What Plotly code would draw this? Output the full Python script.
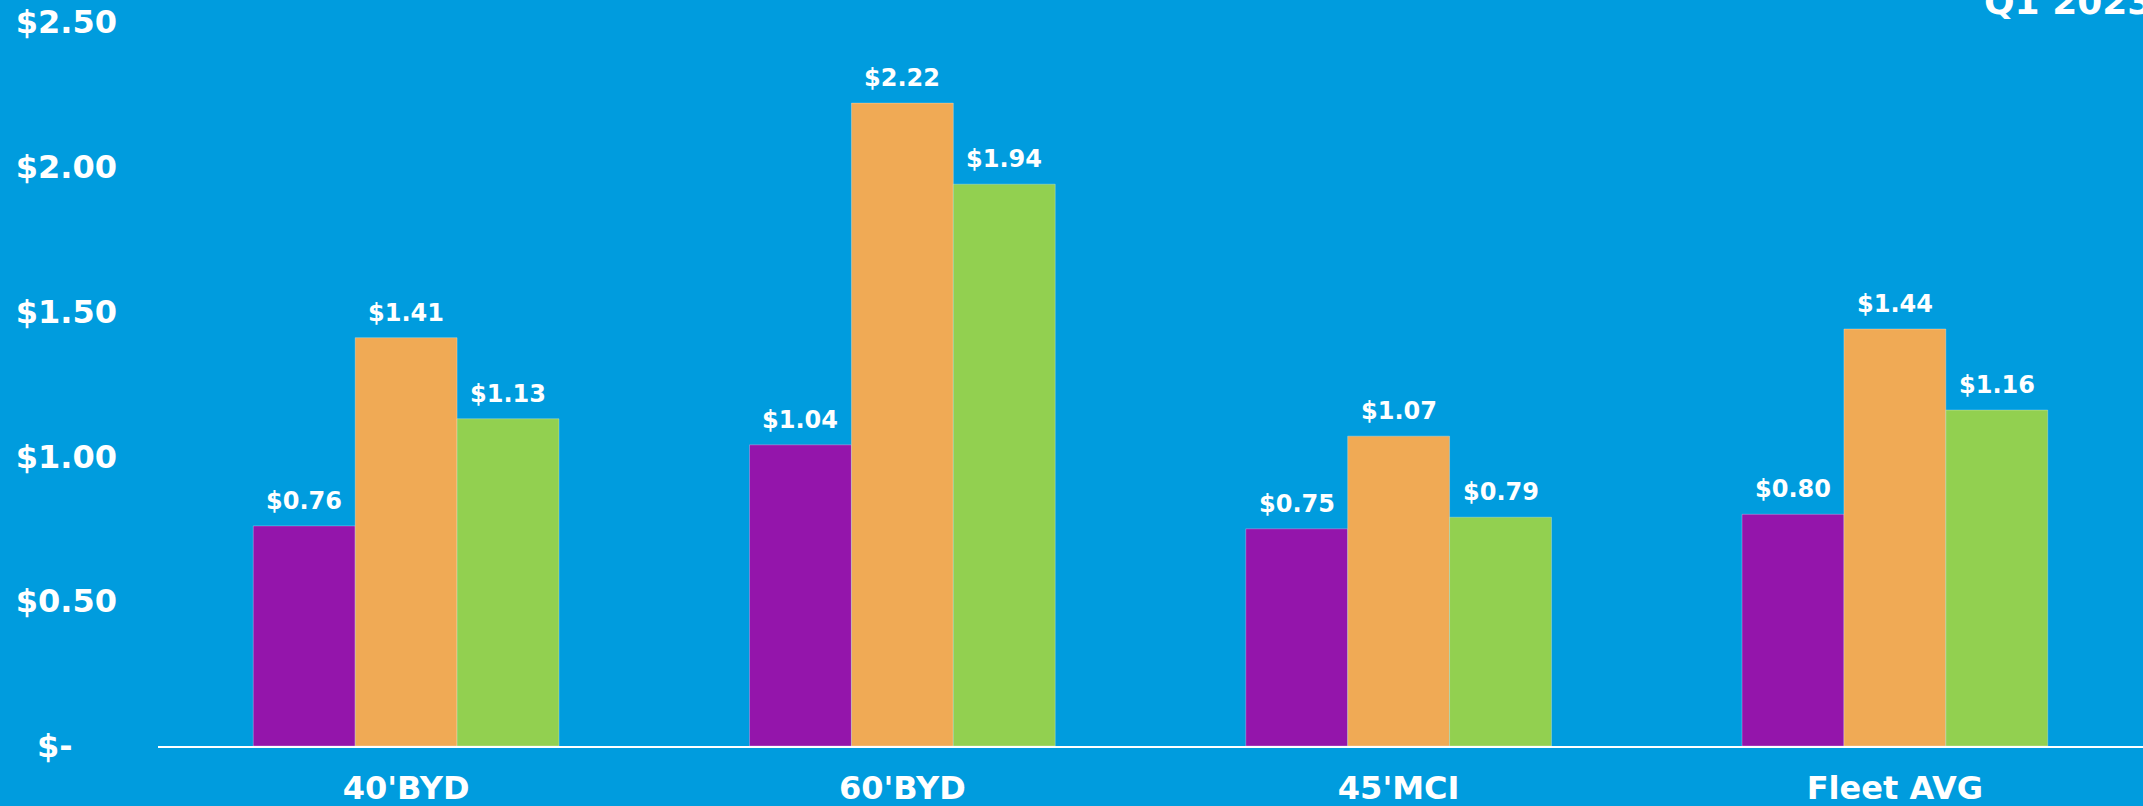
import plotly.graph_objects as go

categories = ["40'BYD", "60'BYD", "45'MCI", "Fleet AVG"]
series_purple = [0.76, 1.04, 0.75, 0.80]
series_orange = [1.41, 2.22, 1.07, 1.44]
series_green = [1.13, 1.94, 0.79, 1.16]
tick_vals = [0, 0.5, 1.0, 1.5, 2.0, 2.5]
tick_text = ["$-\u2007\u2007", "$0.50", "$1.00", "$1.50", "$2.00", "$2.50"]
corner_label = "Q1 2023"

BG = "rgb(0,156,222)"
colors = ["#9415AB", "#F0AA55", "#92D050"]
FONT = "DejaVu Sans"

fig = go.Figure()
all_series = [series_purple, series_orange, series_green]
for vals, col in zip(all_series, colors):
    fig.add_trace(go.Bar(
        x=categories, y=vals,
        marker=dict(color=col, line=dict(color="rgba(255,255,255,0.35)", width=0.8)),
        hoverinfo="skip",
    ))

# data labels
bar_px = 102
annotations = []
for i, vals in enumerate(all_series):
    for c, v in zip(categories, vals):
        annotations.append(dict(
            x=c, y=v, xref="x", yref="y", text=f"${v:.2f}",
            showarrow=False, xshift=(i - 1) * bar_px, yshift=25,
            yanchor="middle", xanchor="center",
            font=dict(family=FONT, size=24, color="white", weight="bold"),
        ))

annotations.append(dict(
    x=0.919, y=0.9972, xref="paper", yref="paper", text=corner_label,
    showarrow=False, xanchor="left", yanchor="bottom",
    font=dict(family=FONT, size=36, color="white", weight="bold"),
))

fig.update_layout(
    width=2143, height=806,
    margin=dict(l=158, r=0, t=22, b=60, autoexpand=False),
    paper_bgcolor=BG, plot_bgcolor=BG,
    barmode="group", bargap=0.384, bargroupgap=0,
    showlegend=False,
    hovermode=False,
    annotations=annotations,
    xaxis=dict(
        automargin=False,
        showgrid=False, zeroline=False, showline=True, linecolor="white", linewidth=2,
        ticks="", ticklabelstandoff=13,
        tickfont=dict(family=FONT, size=32, color="white", weight="bold"),
    ),
    yaxis=dict(
        automargin=False,
        range=[0, 2.5], autorange=False, showgrid=False, zeroline=False, showline=False,
        tickvals=tick_vals, ticktext=tick_text, ticks="", ticklabelstandoff=40,
        tickfont=dict(family=FONT, size=32, color="white", weight="bold"),
    ),
)

fig.write_html(
    "out.html",
    config={"displayModeBar": False},
    post_script="document.body.style.margin='0';document.body.style.padding='0';"
                "document.body.style.overflow='hidden';document.body.style.background='rgb(0,156,222)';",
)
